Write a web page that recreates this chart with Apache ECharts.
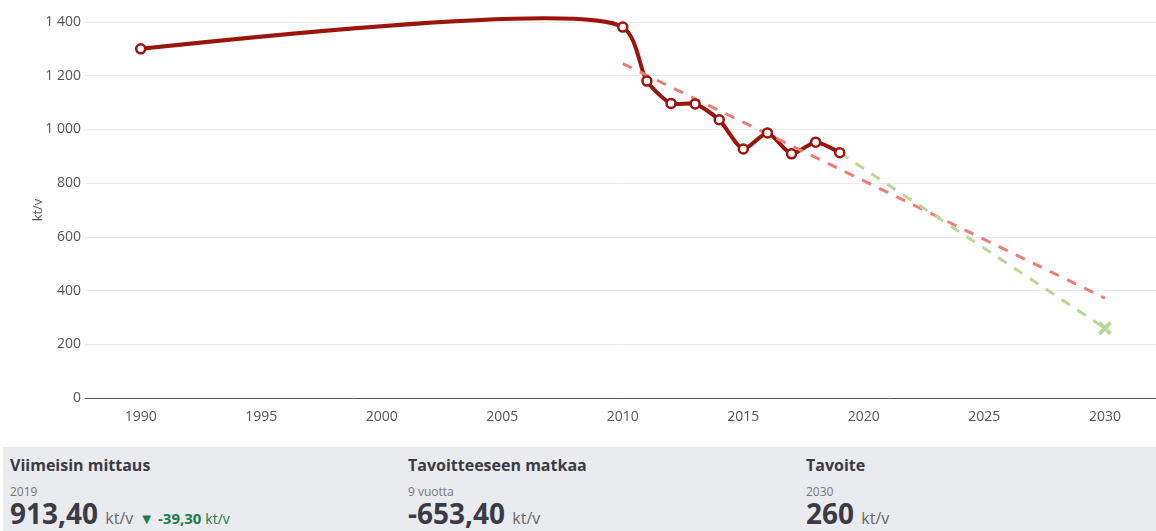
<!DOCTYPE html>
<html>
<head>
<meta charset="utf-8">
<script src="https://cdn.jsdelivr.net/npm/echarts@6/dist/echarts.min.js"></script>
<style>
  html, body { margin: 0; padding: 0; background: #fff; font-family: "Open Sans", sans-serif; overflow: hidden; }
  #chart { position: absolute; left: 0; top: 0; width: 1156px; height: 445px; }
  .panel { position: absolute; left: 3px; top: 447px; width: 1153px; height: 84px; background: #e9ebee; }
  .col { position: absolute; top: 0; }
  .col h3 { margin: 0; position: absolute; top: 7px; white-space: nowrap; font-size: 16px; font-weight: 700; color: #3b3a45; }
  .col .sub { position: absolute; top: 36px; white-space: nowrap; font-size: 12px; color: #777; }
  .col .big { position: absolute; top: 47px; white-space: nowrap; font-size: 28px; font-weight: 700; color: #3b3a45; }
  .col .unit { font-size: 16px; font-weight: 400; color: #666; }
  .col .chg { font-size: 15px; font-weight: 700; color: #1f7a4d; margin-left: 6px; }
  .col .chg .unit { font-size: 14px; color: #1f7a4d; }
</style>
</head>
<body>
<div id="chart"></div>
<div class="panel">
  <div class="col" style="left:7px">
    <h3>Viimeisin mittaus</h3>
    <div class="sub">2019</div>
    <div class="big">913,40 <span class="unit">kt/v</span><span class="chg">▼ -39,30 <span class="unit">kt/v</span></span></div>
  </div>
  <div class="col" style="left:405px">
    <h3>Tavoitteeseen matkaa</h3>
    <div class="sub">9 vuotta</div>
    <div class="big">-653,40 <span class="unit">kt/v</span></div>
  </div>
  <div class="col" style="left:803px">
    <h3>Tavoite</h3>
    <div class="sub">2030</div>
    <div class="big">260 <span class="unit">kt/v</span></div>
  </div>
</div>
<script>
var years = [1990, 2010, 2011, 2012, 2013, 2014, 2015, 2016, 2017, 2018, 2019];
var values = [1300, 1381, 1180, 1097, 1095, 1036, 927, 987, 909, 952.7, 913.4];
var trendYears = [2010, 2030];
var trendValues = [1245, 372];
var targetYears = [2019, 2030];
var targetValues = [913.4, 260];
var xTicks = [1990, 1995, 2000, 2005, 2010, 2015, 2020, 2025, 2030];

(function () {
  var pairs = function (xs, ys) {
    return xs.map(function (x, i) {
      return [x, ys[i]];
    });
  };
  var main = pairs(years, values);
  var red = "#9a150b";
  var cross = "path://M2,0 L5,3 L8,0 L10,2 L7,5 L10,8 L8,10 L5,7 L2,10 L0,8 L3,5 L0,2 Z";
  var smoothness = 0.7;

  // spline tangents, catmull-rom style (pixel space)
  var tangent = function (p0, p1, p2) {
    var d1x = p0[0] - p1[0], d1y = p0[1] - p1[1];
    var d2x = p2[0] - p1[0], d2y = p2[1] - p1[1];
    var d1a = Math.pow(d1x * d1x + d1y * d1y, 0.25);
    var d2a = Math.pow(d2x * d2x + d2y * d2y, 0.25);
    var nx = (d2a * d2a * d1x - d1a * d1a * d2x) * smoothness;
    var ny = (d2a * d2a * d1y - d1a * d1a * d2y) * smoothness;
    var den1 = 3 * d2a * (d1a + d2a);
    var den2 = 3 * d1a * (d1a + d2a);
    return [
      [p1[0] + nx / den1, p1[1] + ny / den1],
      [p1[0] - nx / den2, p1[1] - ny / den2],
    ];
  };
  var splinePath = function (pts) {
    var t = [];
    for (var i = 1; i < pts.length - 1; i++) {
      t.push(tangent(pts[i - 1], pts[i], pts[i + 1]));
    }
    var d = "M" + pts[0].join(",") + "Q" + t[0][0].join(",") + " " + pts[1].join(",");
    for (i = 2; i < pts.length - 1; i++) {
      d += "C" + t[i - 2][1].join(",") + " " + t[i - 1][0].join(",") + " " + pts[i].join(",");
    }
    d += "Q" + t[pts.length - 3][1].join(",") + " " + pts[pts.length - 1].join(",");
    return d;
  };

  var option = {
    animation: false,
    textStyle: { fontFamily: "Open Sans" },
    grid: { left: 85, right: 0, top: 22, bottom: 47 },
    xAxis: {
      type: "value",
      min: 1987.69,
      max: 2032.12,
      splitLine: { show: false },
      axisTick: { show: false },
      axisLine: { lineStyle: { color: "#555", width: 1 } },
      axisLabel: {
        customValues: xTicks,
        color: "#555",
        fontSize: 14,
        margin: 12,
        formatter: function (v) {
          return String(v);
        },
      },
    },
    yAxis: {
      type: "value",
      min: 0,
      max: 1400,
      interval: 200,
      name: "kt/v",
      nameLocation: "middle",
      nameRotate: 90,
      nameGap: 40,
      nameMoveOverlap: false,
      nameTextStyle: { color: "#555", fontSize: 13 },
      axisLine: { show: false },
      axisTick: { show: false },
      splitLine: { lineStyle: { color: "#ebebeb" } },
      axisLabel: {
        color: "#555",
        fontSize: 14,
        margin: 4,
        formatter: function (v) {
          return String(v).replace(/\B(?=(\d{3})+(?!\d))/g, " ");
        },
      },
    },
    series: [
      {
        type: "custom",
        data: main,
        clip: false,
        z: 2,
        silent: true,
        renderItem: function (params, api) {
          if (params.dataIndex !== 0) return null;
          var pts = main.map(function (p) {
            return api.coord(p);
          });
          return {
            type: "path",
            shape: { pathData: splinePath(pts) },
            style: { fill: "none", stroke: red, lineWidth: 4 },
          };
        },
      },
      {
        type: "line",
        data: pairs(trendYears, trendValues),
        symbol: "none",
        z: 3,
        lineStyle: { color: "#ee7d76", width: 3, type: [10, 9] },
      },
      {
        type: "line",
        data: pairs(targetYears, targetValues),
        symbol: function (v, p) {
          return p.dataIndex === 1 ? cross : "none";
        },
        symbolSize: 14,
        z: 3,
        itemStyle: { color: "#bdd596" },
        lineStyle: { color: "#bdd596", width: 3, type: [10, 9] },
      },
      {
        type: "scatter",
        data: main,
        symbol: "circle",
        symbolSize: 9,
        z: 5,
        itemStyle: { color: "#fff", borderColor: red, borderWidth: 2.5, opacity: 1 },
      },
    ],
  };
  var myChart = echarts.init(document.getElementById("chart"));
  myChart.setOption(option);
})();
</script>
</body>
</html>
